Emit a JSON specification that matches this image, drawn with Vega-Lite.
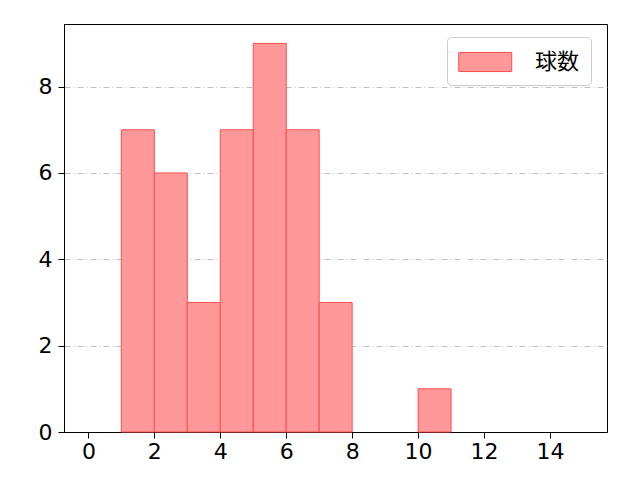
{
  "$schema": "https://vega.github.io/schema/vega-lite/v6.json",
  "autosize": {"type": "none"},
  "padding": {"left": 64, "top": 24, "right": 33, "bottom": 48},
  "width": 543,
  "height": 408,
  "background": "white",
  "config": {
    "font": "DejaVu Sans",
    "view": {"stroke": "black", "strokeWidth": 1},
    "axis": {
      "labelFont": "DejaVu Sans",
      "labelFontSize": 22,
      "labelColor": "black",
      "domainColor": "black",
      "tickColor": "black",
      "tickSize": 6,
      "title": null
    },
    "axisX": {"labelPadding": 3},
    "axisY": {"labelPadding": 6}
  },
  "data": {
    "values": [
      {"start": 1, "end": 2, "count": 7, "series": "球数"},
      {"start": 2, "end": 3, "count": 6, "series": "球数"},
      {"start": 3, "end": 4, "count": 3, "series": "球数"},
      {"start": 4, "end": 5, "count": 7, "series": "球数"},
      {"start": 5, "end": 6, "count": 9, "series": "球数"},
      {"start": 6, "end": 7, "count": 7, "series": "球数"},
      {"start": 7, "end": 8, "count": 3, "series": "球数"},
      {"start": 10, "end": 11, "count": 1, "series": "球数"}
    ]
  },
  "mark": {"type": "rect", "stroke": "#ff4d4d", "strokeWidth": 1, "fillOpacity": 1},
  "encoding": {
    "x": {
      "field": "start", "type": "quantitative",
      "scale": {"domain": [-0.74, 15.73], "nice": false, "zero": false},
      "axis": {"values": [0, 2, 4, 6, 8, 10, 12, 14], "grid": false}
    },
    "x2": {"field": "end"},
    "y": {
      "field": "count", "type": "quantitative",
      "scale": {"domain": [0, 9.45], "nice": false},
      "axis": {"values": [0, 2, 4, 6, 8], "grid": true, "gridColor": "#b0b0b0", "gridDash": [6, 3, 1, 3], "gridWidth": 0.8}
    },
    "y2": {"datum": 0},
    "color": {
      "field": "series", "type": "nominal",
      "scale": {"range": ["#ff9999"]},
      "legend": {
        "title": null,
        "orient": "none",
        "legendX": 383,
        "legendY": 13,
        "symbolType": "M-1,-0.72H3V0.72H-1Z",
        "symbolSize": 702,
        "symbolStrokeColor": "#ff4d4d",
        "symbolStrokeWidth": 1,
        "labelFont": "Noto Sans CJK JP",
        "labelFontSize": 22,
        "labelColor": "black",
        "labelOffset": 49,
        "labelExpr": "datum.label + '\u2002'",
        "strokeColor": "#cccccc",
        "cornerRadius": 4,
        "padding": 11,
        "fillColor": "white"
      }
    }
  }
}
